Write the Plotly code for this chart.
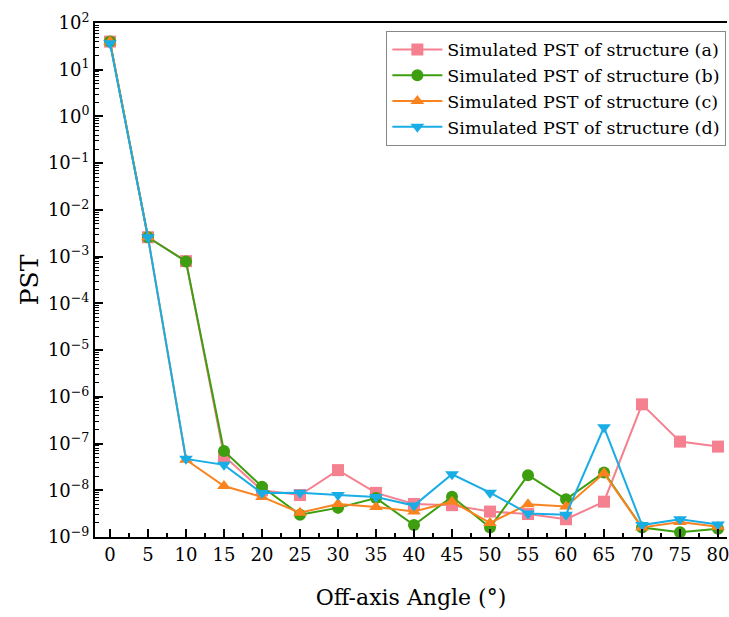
import plotly.graph_objects as go

angles = [0, 5, 10, 15, 20, 25, 30, 35, 40, 45, 50, 55, 60, 65, 70, 75, 80]
pst_a = [40, 2.6e-3, 8.0e-4, 5.4e-8, 1.0e-8, 7.9e-9, 2.7e-8, 8.8e-9, 5.1e-9, 4.8e-9, 3.5e-9, 3.1e-9, 2.4e-9, 5.7e-9, 6.9e-7, 1.1e-7, 8.6e-8]
pst_b = [40, 2.6e-3, 7.9e-4, 6.9e-8, 1.19e-8, 3.0e-9, 4.2e-9, 6.8e-9, 1.8e-9, 7.3e-9, 1.6e-9, 2.1e-8, 6.4e-9, 2.4e-8, 1.6e-9, 1.26e-9, 1.5e-9]
pst_c = [40, 2.6e-3, 4.5e-8, 1.23e-8, 7.2e-9, 3.3e-9, 5.1e-9, 4.4e-9, 3.5e-9, 5.7e-9, 2.0e-9, 5.0e-9, 4.5e-9, 2.3e-8, 1.6e-9, 2.1e-9, 1.66e-9]
pst_d = [37, 2.6e-3, 4.7e-8, 3.5e-8, 8.7e-9, 8.9e-9, 7.9e-9, 7.2e-9, 4.7e-9, 2.2e-8, 8.9e-9, 3.2e-9, 3.0e-9, 2.23e-7, 1.8e-9, 2.4e-9, 1.86e-9]

names = ["Simulated PST of structure (a)", "Simulated PST of structure (b)",
         "Simulated PST of structure (c)", "Simulated PST of structure (d)"]
colors = ["#F5808F", "#3D9E0F", "#FA8320", "#19ADE6"]
symbols = ["square", "circle", "triangle-up", "triangle-down"]
series = [pst_a, pst_b, pst_c, pst_d]

ytick_exps = list(range(-9, 3))

fig = go.Figure()
for name, col, sym, vals in zip(names, colors, symbols, series):
    fig.add_trace(go.Scatter(
        x=angles, y=vals, mode="lines+markers", name=name,
        line=dict(color=col, width=2),
        marker=dict(symbol=sym, size=12, color=col),
    ))

font_family = "DejaVu Serif"
fig.update_layout(
    width=729, height=617,
    margin=dict(l=95, r=0, t=23, b=80),
    paper_bgcolor="white", plot_bgcolor="white",
    font=dict(family=font_family, color="black", size=18),
    legend=dict(
        x=0.999, y=0.985, xanchor="right", yanchor="top",
        bgcolor="white", bordercolor="#888888", borderwidth=1,
        font=dict(family=font_family, size=17.5, color="black"),
        tracegroupgap=0, itemwidth=50,
    ),
    showlegend=True,
)
fig.update_xaxes(
    range=[-1.97, 81.18], tickmode="array", tickvals=angles,
    ticktext=[str(a) for a in angles],
    ticks="inside", ticklen=8, tickwidth=2, tickcolor="black",
    minor=dict(ticks="inside", ticklen=4, tickwidth=1.5, tickcolor="black", dtick=2.5, tick0=0),
    showline=True, linewidth=2, linecolor="black", mirror=True,
    showgrid=False, zeroline=False, ticklabeloverflow="allow",
    tickfont=dict(family=font_family, size=18),
    title=dict(text="Off-axis Angle (°)", font=dict(family=font_family, size=22), standoff=26),
)
fig.update_yaxes(
    type="log", range=[-9, 2],
    tickmode="array", tickvals=[10.0 ** e for e in ytick_exps],
    ticktext=["10<sup>" + str(e).replace("-", "−") + "</sup>" for e in ytick_exps],
    ticks="inside", ticklen=8, tickwidth=2, tickcolor="black",
    minor=dict(ticks="inside", ticklen=4, tickwidth=1.2, tickcolor="black", dtick="D1"),
    showline=True, linewidth=2, linecolor="black", mirror=False,
    showgrid=False, zeroline=False,
    tickfont=dict(family=font_family, size=18),
    title=dict(text="PST", font=dict(family=font_family, size=25), standoff=2),
)

fig.write_html("out.html")
